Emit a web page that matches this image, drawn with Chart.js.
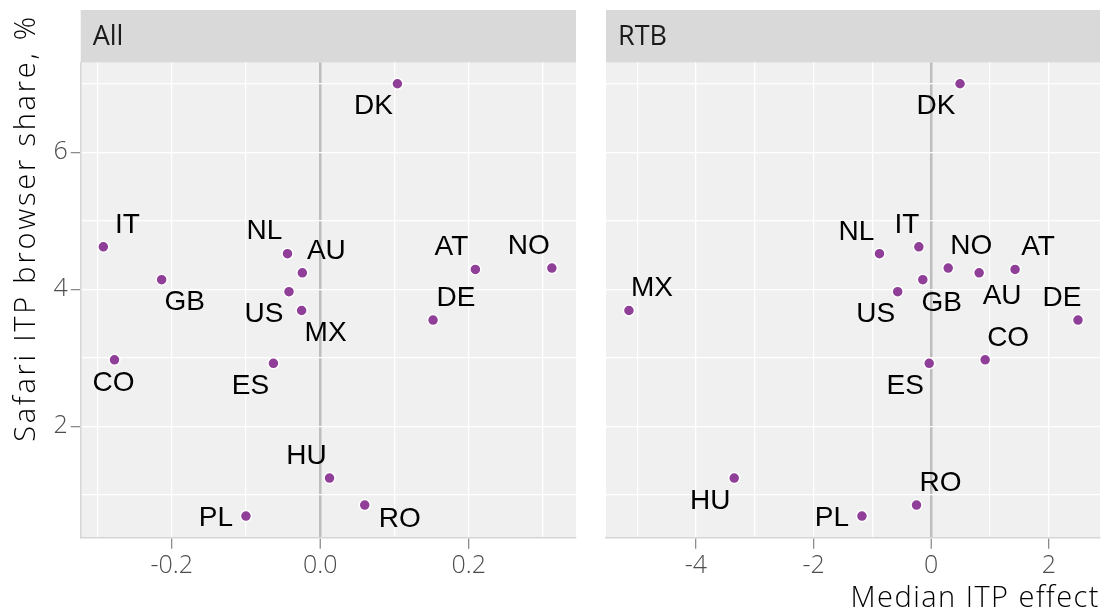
<!DOCTYPE html>
<html>
<head>
<meta charset="utf-8">
<script src="https://cdn.jsdelivr.net/npm/chart.js@4.4.1/dist/chart.umd.min.js"></script>
<style>
  html, body { margin: 0; padding: 0; background: #ffffff; }
  #wrap { position: relative; width: 1107px; height: 614px; }
  canvas { position: absolute; top: 0; }
  #c1 { left: 0; }
  #c2 { left: 590px; }
</style>
</head>
<body>
<div id="wrap">
  <canvas id="c1" width="590" height="614"></canvas>
  <canvas id="c2" width="517" height="614"></canvas>
</div>
<script>
// data
const countries = ['DK', 'IT', 'NL', 'AU', 'GB', 'US', 'MX', 'AT', 'NO', 'DE', 'CO', 'ES', 'HU', 'RO', 'PL'];
const safariShare = [7.00, 4.62, 4.52, 4.24, 4.14, 3.965, 3.69, 4.29, 4.31, 3.55, 2.97, 2.92, 1.245, 0.85, 0.69];
const effectAll = [0.104, -0.292, -0.044, -0.024, -0.2135, -0.042, -0.025, 0.209, 0.312, 0.152, -0.277, -0.063, 0.0126, 0.060, -0.100];
const effectRTB = [0.49, -0.21, -0.88, 0.815, -0.143, -0.57, -5.14, 1.426, 0.289, 2.496, 0.917, -0.034, -3.35, -0.25, -1.178];

const yTicks = [1, 2, 3, 4, 5, 6, 7];
const yLabelled = [2, 4, 6];
const xTicksAll = [-0.3, -0.2, -0.1, 0, 0.1, 0.2, 0.3];
const xLabelledAll = [-0.2, 0, 0.2];
const xTicksRTB = [-5, -4, -3, -2, -1, 0, 1, 2];
const xLabelledRTB = [-4, -2, 0, 2];

// where each country label sits relative to its point (px)
const labelOffsetAll = [[-24, 23], [24, -22], [-23, -22], [24, -22], [23, 23], [-25, 23], [24, 23],
  [-24, -22], [-23, -22], [23, -22], [-1, 23], [-23, 23], [-23, -22], [35, 14], [-30, 2]];
const labelOffsetRTB = [[-24, 23], [-12, -22], [-23, -21], [23, 23], [19, 24], [-22, 23], [23, -22],
  [23, -22], [23, -22], [-16, -22], [23, -22], [-24, 23], [-24, 23], [24, -22], [-30, 2]];

const panelBg = '#f0f0f0';
const stripBg = '#d9d9d9';
const dotColor = '#8f3f97';
const tickFont = { family: 'Open Sans', size: 25, weight: '300' };

function near(list, v) {
  return list.some(t => Math.abs(t - v) < 1e-6);
}

// stretch a title to the width it has in the original
function fitSpacing(ctx, text, target) {
  ctx.letterSpacing = '0px';
  const w = ctx.measureText(text).width;
  const gap = Math.max(0, (target - w) / (text.length - 1));
  ctx.letterSpacing = gap.toFixed(2) + 'px';
}

// panel background + facet strip
const panelPlugin = {
  id: 'panel',
  beforeDraw(chart, args, opts) {
    const a = chart.chartArea;
    const ctx = chart.ctx;
    ctx.save();
    ctx.fillStyle = panelBg;
    ctx.fillRect(a.left, a.top, a.right - a.left, a.bottom - a.top);
    ctx.fillStyle = stripBg;
    ctx.fillRect(a.left, 10, a.right - a.left, a.top - 10);
    ctx.fillStyle = '#1a1a1a';
    ctx.font = '400 27px "Open Sans"';
    ctx.textBaseline = 'middle';
    ctx.textAlign = 'left';
    ctx.fillText(opts.strip, a.left + 12, 37);
    ctx.restore();
  }
};

// country labels next to the dots
const labelPlugin = {
  id: 'countryLabels',
  afterDatasetsDraw(chart, args, opts) {
    const ctx = chart.ctx;
    const meta = chart.getDatasetMeta(0);
    ctx.save();
    ctx.font = '28px "Liberation Sans", Arial, sans-serif';
    ctx.fillStyle = '#000000';
    ctx.textAlign = 'center';
    ctx.textBaseline = 'middle';
    meta.data.forEach((pt, i) => {
      const off = opts.offsets[i];
      ctx.fillText(countries[i], pt.x + off[0], pt.y + off[1]);
    });
    ctx.restore();
  }
};

// axis titles (aligned to the far ends like the original)
const titlePlugin = {
  id: 'axisTitles',
  afterDraw(chart, args, opts) {
    const ctx = chart.ctx;
    ctx.save();
    ctx.fillStyle = '#000000';
    ctx.font = '300 29px "Open Sans"';
    ctx.textAlign = 'right';
    ctx.textBaseline = 'alphabetic';
    if (opts.yTitle) {
      fitSpacing(ctx, opts.yTitle, 425);
      ctx.translate(35, 14);
      ctx.rotate(-Math.PI / 2);
      ctx.fillText(opts.yTitle, 0, 0);
    }
    if (opts.xTitle) {
      fitSpacing(ctx, opts.xTitle, 248);
      ctx.fillText(opts.xTitle, chart.chartArea.right, 607);
    }
    ctx.restore();
  }
};

function makePanel(id, xs, opt) {
  const points = xs.map((x, i) => ({ x: x, y: safariShare[i] }));
  return new Chart(document.getElementById(id), {
    type: 'scatter',
    data: {
      datasets: [{
        data: points,
        backgroundColor: dotColor,
        borderColor: '#ffffff',
        borderWidth: 1.5,
        pointRadius: 5.5,
        pointHoverRadius: 5.5
      }]
    },
    plugins: [panelPlugin, labelPlugin, titlePlugin],
    options: {
      responsive: false,
      animation: false,
      layout: { padding: { top: 62.5, right: opt.padRight, bottom: 0, left: 0 } },
      plugins: {
        legend: { display: false },
        tooltip: { enabled: false },
        panel: { strip: opt.strip },
        countryLabels: { offsets: opt.offsets },
        axisTitles: { xTitle: opt.xTitle, yTitle: opt.yTitle }
      },
      scales: {
        x: {
          type: 'linear',
          min: opt.xMin,
          max: opt.xMax,
          afterBuildTicks: s => { s.ticks = opt.xTicks.map(v => ({ value: v })); },
          afterFit: s => { s.height = 76.3; },
          border: { display: true, color: '#d6d6d6', width: 1.5 },
          grid: {
            color: c => (c.tick && c.tick.value === 0) ? '#bdbdbd' : '#ffffff',
            lineWidth: c => (c.tick && c.tick.value === 0) ? 2.5 : 1.3,
            tickColor: c => near(opt.xLabelled, c.tick.value) ? '#8c8c8c' : 'rgba(0,0,0,0)',
            tickLength: 11,
            tickWidth: 1.3
          },
          ticks: {
            padding: 2,
            color: '#4d4d4d',
            font: tickFont,
            maxRotation: 0,
            autoSkip: false,
            callback: v => near(opt.xLabelled, v) ? opt.fmt(v) : ''
          }
        },
        y: {
          type: 'linear',
          min: 0.374,
          max: 7.31,
          afterBuildTicks: s => { s.ticks = yTicks.map(v => ({ value: v })); },
          afterFit: s => { s.width = opt.yWidth; },
          border: { display: opt.showY, color: '#d6d6d6', width: 1.5 },
          grid: {
            color: '#ffffff',
            lineWidth: 1.3,
            drawTicks: opt.showY,
            tickColor: c => near(yLabelled, c.tick.value) ? '#8c8c8c' : 'rgba(0,0,0,0)',
            tickLength: 10,
            tickWidth: 1.3
          },
          ticks: {
            display: opt.showY,
            padding: 3,
            color: '#4d4d4d',
            font: tickFont,
            autoSkip: false,
            callback: v => near(yLabelled, v) ? String(v) : ''
          }
        }
      }
    }
  });
}

makePanel('c1', effectAll, {
  strip: 'All',
  offsets: labelOffsetAll,
  xMin: -0.3225, xMax: 0.3445,
  xTicks: xTicksAll, xLabelled: xLabelledAll,
  fmt: v => v.toFixed(1),
  padRight: 14,
  yWidth: 80.7,
  showY: true,
  yTitle: 'Safari ITP browser share, %'
});

makePanel('c2', effectRTB, {
  strip: 'RTB',
  offsets: labelOffsetRTB,
  xMin: -5.53, xMax: 2.87,
  xTicks: xTicksRTB, xLabelled: xLabelledRTB,
  fmt: v => String(v),
  padRight: 6.3,
  yWidth: 16,
  showY: false,
  xTitle: 'Median ITP effect'
});
</script>
</body>
</html>
